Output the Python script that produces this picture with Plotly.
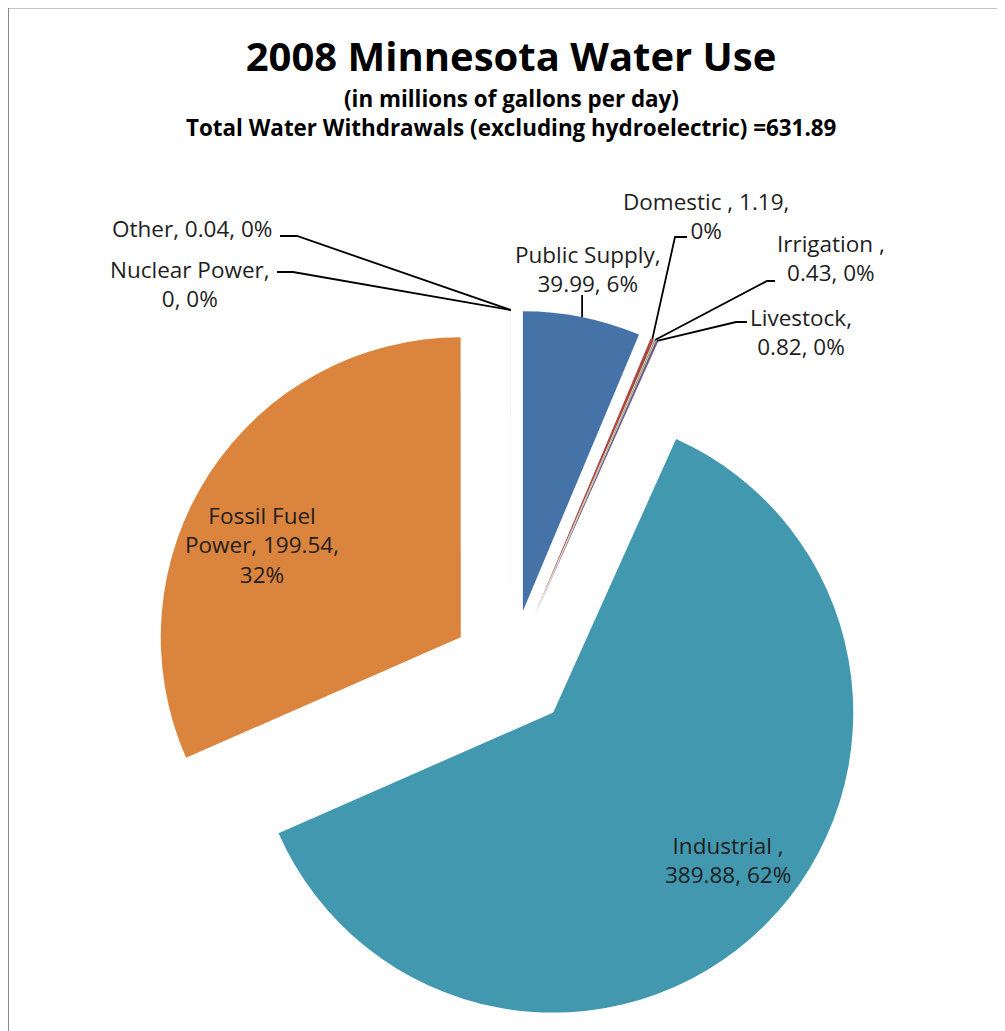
import math
import plotly.graph_objects as go

# data
labels = ["Public Supply", "Domestic ", "Irrigation ", "Livestock",
          "Industrial ", "Fossil Fuel Power", "Nuclear Power", "Other"]
values = [39.99, 1.19, 0.43, 0.82, 389.88, 199.54, 0, 0.04]
colors = ["#4572A7", "#AA4643", "#89A54E", "#71588F",
          "#4198AF", "#DB843D", "#93A9CF", "#D19392"]

title = "2008 Minnesota Water Use"
subtitle = "(in millions of gallons per day)"
total_text = "Total Water Withdrawals (excluding hydroelectric) ="

# page / pie geometry (pixels, measured on the page)
W, H = 1005, 1031
OFF = 8  # the html body margin shifts the figure by this much
CX, CY, R, PULL = 511, 670, 300, 0.2
FONT = "Open Sans"
TXT = "#1e1e1e"

# how each data label is wrapped
label_fmt = {
    "Public Supply": "{n},<br>{v}, {p}",
    "Domestic ": "{n}, {v},<br>{p}",
    "Irrigation ": "{n},<br>{v}, {p}",
    "Livestock": "{n},<br>{v}, {p}",
    "Industrial ": "{n},<br>{v}, {p}",
    "Fossil Fuel Power": "Fossil Fuel<br>Power, {v},<br>{p}",
    "Nuclear Power": "{n},<br>{v}, {p}",
    "Other": "{n}, {v}, {p}",
}
# label centre and leader-line start points (pixels)
label_pos = {
    "Public Supply": ((588, 269), "vertical"),
    "Domestic ": ((706, 216), [(687, 237), (675, 237)]),
    "Irrigation ": ((831, 258), [(775, 281), (767, 281)]),
    "Livestock": ((801, 332), [(747, 322), (736, 322)]),
    "Industrial ": ((728, 860), None),
    "Fossil Fuel Power": ((262, 545), None),
    "Nuclear Power": ((190, 284), [(277, 272), (293, 272)]),
    "Other": ((192, 228), [(280, 236), (297, 236)]),
}

total = sum(values)


def px(x, y):
    return (x - OFF) / W, 1 - (y - OFF) / H


def slice_tip(i):
    before = sum(values[:i]) / total * 360
    ang = before + values[i] / total * 180
    a = math.radians(ang)
    cx = CX + PULL * R * math.sin(a)
    cy = CY - PULL * R * math.cos(a)
    return cx + R * math.sin(a), cy - R * math.cos(a)


ext = R * (1 + PULL)
dx0, dy1 = px(CX - ext, CY - ext)
dx1, dy0 = px(CX + ext, CY + ext)

fig = go.Figure()
fig.add_trace(go.Pie(
    labels=labels,
    values=values,
    sort=False,
    direction="clockwise",
    rotation=0,
    pull=PULL,
    marker=dict(colors=colors, line=dict(width=0)),
    textinfo="none",
    hoverinfo="label+value+percent",
    showlegend=False,
    domain=dict(x=[dx0, dx1], y=[dy0, dy1]),
))

annotations = []
shapes = []
for i, name in enumerate(labels):
    pct = f"{round(values[i] / total * 100)}%"
    text = label_fmt[name].format(n=name, v=f"{values[i]:g}", p=pct)
    (tx, ty), lead = label_pos[name]
    x, y = px(tx, ty)
    annotations.append(dict(
        x=x, y=y, xref="paper", yref="paper", text=text, showarrow=False,
        xanchor="center", yanchor="middle", align="center",
        font=dict(family=FONT, size=22.5, color=TXT)))
    if lead is None:
        continue
    tip = slice_tip(i)
    if lead == "vertical":
        pts = [(tip[0], ty + 26), tip]
    else:
        pts = list(lead) + [tip]
    path = "M " + " L ".join(f"{px(*p)[0]:.5f},{px(*p)[1]:.5f}" for p in pts)
    shapes.append(dict(type="path", xref="paper", yref="paper", path=path,
                       line=dict(color="black", width=1.8)))

for txt, ypix in [(subtitle, 98), (f"{total_text}{total:.2f}", 127)]:
    x, y = px(511, ypix)
    annotations.append(dict(
        x=x, y=y, xref="paper", yref="paper", text=f"<b>{txt}</b>",
        showarrow=False, xanchor="center", yanchor="middle",
        font=dict(family=FONT, size=22.4, color="black")))

# chart frame (left and top edges visible)
lx, ty_ = px(8, 7.5)
shapes.append(dict(type="line", xref="paper", yref="paper",
                   x0=lx, x1=lx, y0=ty_, y1=-0.02,
                   line=dict(color="#888888", width=2)))
shapes.append(dict(type="line", xref="paper", yref="paper",
                   x0=lx, x1=1.02, y0=ty_, y1=ty_,
                   line=dict(color="#888888", width=2)))

tx_, tyy = px(511, 57)
fig.update_layout(
    width=W, height=H,
    margin=dict(l=0, r=0, t=0, b=0),
    paper_bgcolor="white",
    plot_bgcolor="white",
    title=dict(text=f"<b>{title}</b>", x=tx_, xanchor="center",
               y=tyy, yanchor="middle", yref="container",
               font=dict(family=FONT, size=40, color="black")),
    annotations=annotations,
    shapes=shapes,
)

fig.write_html("out.html")
